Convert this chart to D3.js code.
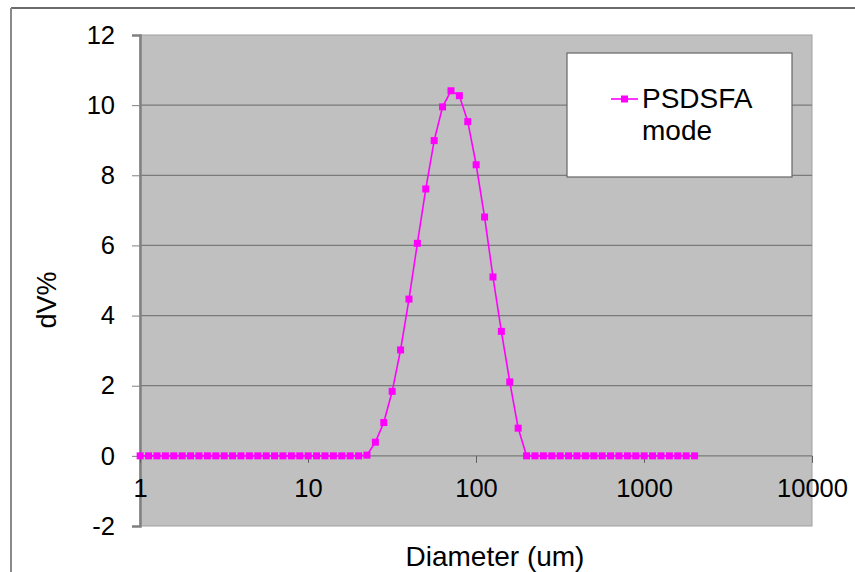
<!DOCTYPE html>
<html>
<head>
<meta charset="utf-8">
<script src="https://cdn.jsdelivr.net/npm/d3@7"></script>
<style>
  body { margin: 0; background: #fff; }
  text { font-family: Arial, "Liberation Sans", sans-serif; fill: #000; }
</style>
</head>
<body>
<svg width="855" height="572"></svg>
<script>
// particle size bins (um)
const diameters = [
  1.002, 1.125, 1.262, 1.416, 1.589, 1.783, 2.000, 2.244, 2.518, 2.825,
  3.170, 3.557, 3.991, 4.477, 5.024, 5.637, 6.325, 7.096, 7.962, 8.934,
  10.024, 11.247, 12.619, 14.159, 15.887, 17.825, 20.000, 22.440, 25.179, 28.251,
  31.698, 35.566, 39.905, 44.774, 50.238, 56.368, 63.246, 70.963, 79.621, 89.337,
  100.237, 112.468, 126.191, 141.589, 158.866, 178.250, 200.000, 224.404, 251.785, 282.508,
  316.979, 355.656, 399.052, 447.744, 502.377, 563.677, 632.456, 709.627, 796.214, 893.367,
  1002.374, 1124.683, 1261.915, 1415.892, 1588.656, 1782.502, 2000.000
];

// volume %
const dvPct = [
  0, 0, 0, 0, 0, 0, 0, 0, 0, 0,
  0, 0, 0, 0, 0, 0, 0, 0, 0, 0,
  0, 0, 0, 0, 0, 0, 0, 0.02, 0.39, 0.95,
  1.84, 3.02, 4.47, 6.06, 7.61, 8.99, 9.95, 10.41, 10.27, 9.53,
  8.30, 6.81, 5.10, 3.55, 2.11, 0.79, 0, 0, 0, 0,
  0, 0, 0, 0, 0, 0, 0, 0, 0, 0,
  0, 0, 0, 0, 0, 0, 0
];

const xTicks = [1, 10, 100, 1000, 10000];
const yTicks = [-2, 0, 2, 4, 6, 8, 10, 12];
const seriesName = ['PSDSFA', 'mode'];

const svg = d3.select('svg');
const plot = { left: 140, right: 812, top: 35, bottom: 526 };

const x = d3.scaleLog()
    .domain([1, 10000])
    .range([plot.left, plot.right]);

const y = d3.scaleLinear()
    .domain([-2, 12])
    .range([plot.bottom, plot.top]);

// outer frame (cropped chart border)
svg.append('line')
    .attr('x1', 11).attr('x2', 855).attr('y1', 8).attr('y2', 8)
    .attr('stroke', '#3a3a3a').attr('stroke-width', 1.5);
svg.append('line')
    .attr('x1', 11).attr('x2', 11).attr('y1', 8).attr('y2', 572)
    .attr('stroke', '#8a8a8a').attr('stroke-width', 2);

// plot area
svg.append('rect')
    .attr('x', plot.left).attr('y', plot.top)
    .attr('width', plot.right - plot.left)
    .attr('height', plot.bottom - plot.top)
    .attr('fill', '#c0c0c0')
    .attr('stroke', '#a0a0a0');

// gridlines
svg.append('g')
    .selectAll('line')
    .data(yTicks.filter(d => d !== -2 && d !== 12))
    .join('line')
    .attr('x1', plot.left).attr('x2', plot.right)
    .attr('y1', d => y(d)).attr('y2', d => y(d))
    .attr('stroke', '#7a7a7a')
    .attr('stroke-width', 1.3);

// y axis
const yAxis = svg.append('g')
    .attr('transform', `translate(${plot.left},0)`)
    .call(d3.axisLeft(y).tickValues(yTicks).tickFormat(d => String(d)).tickSize(8).tickPadding(17));
yAxis.select('.domain').attr('stroke', '#808080').attr('stroke-width', 2.5);
yAxis.selectAll('.tick line').attr('stroke', '#808080');
yAxis.selectAll('.tick text')
    .style('font-size', '25.5px')
    .attr('fill', '#000');

// x axis at y = 0
const xAxis = svg.append('g')
    .attr('transform', `translate(0,${y(0)})`)
    .call(d3.axisBottom(x).tickValues(xTicks).tickFormat(d => String(d)).tickSize(7));
xAxis.select('.domain').remove();
xAxis.selectAll('.tick line').attr('stroke', '#606060');
xAxis.selectAll('.tick text')
    .style('font-size', '25.5px')
    .attr('fill', '#000')
    .attr('y', 32)
    .attr('dy', '0.35em');

// series line
const line = d3.line()
    .x((d, i) => x(diameters[i]))
    .y(d => y(d));

svg.append('path')
    .datum(dvPct)
    .attr('fill', 'none')
    .attr('stroke', '#ff00ff')
    .attr('stroke-width', 1.6)
    .attr('d', line);

const ms = 7;
svg.append('g')
    .selectAll('rect')
    .data(dvPct)
    .join('rect')
    .attr('x', (d, i) => x(diameters[i]) - ms / 2)
    .attr('y', d => y(d) - ms / 2)
    .attr('width', ms)
    .attr('height', ms)
    .attr('fill', '#ff00ff');

// axis titles
svg.append('text')
    .attr('x', 495).attr('y', 566)
    .attr('text-anchor', 'middle')
    .style('font-size', '28px')
    .text('Diameter (um)');

svg.append('text')
    .attr('transform', 'translate(56,300) rotate(-90)')
    .attr('text-anchor', 'middle')
    .style('font-size', '27px')
    .text('dV%');

// legend
const lg = svg.append('g');
lg.append('rect')
    .attr('x', 567).attr('y', 53)
    .attr('width', 225).attr('height', 124)
    .attr('fill', '#fff')
    .attr('stroke', '#666')
    .attr('stroke-width', 1.2);
lg.append('line')
    .attr('x1', 611).attr('x2', 638).attr('y1', 99).attr('y2', 99)
    .attr('stroke', '#ff00ff').attr('stroke-width', 1.6);
lg.append('rect')
    .attr('x', 624.5 - ms / 2).attr('y', 99 - ms / 2)
    .attr('width', ms).attr('height', ms)
    .attr('fill', '#ff00ff');
lg.selectAll('text.lbl')
    .data(seriesName)
    .join('text')
    .attr('class', 'lbl')
    .attr('x', 642)
    .attr('y', (d, i) => 108 + i * 32)
    .style('font-size', '28px')
    .text(d => d);
</script>
</body>
</html>
